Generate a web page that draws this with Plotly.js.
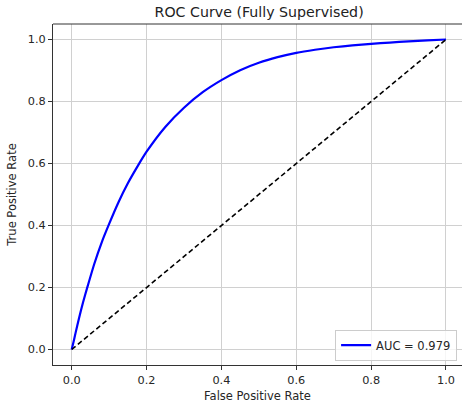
<!DOCTYPE html>
<html>
<head>
<meta charset="utf-8">
<script src="https://cdn.plot.ly/plotly-3.0.1.min.js"></script>
<style>
  html, body { margin: 0; padding: 0; background: #fff; }
  #chart { width: 462px; height: 406px; }
</style>
</head>
<body>
<div id="chart"></div>
<script>
// ROC curve points (false positive rate / true positive rate)
const fpr = [0.0, 0.005, 0.01, 0.02, 0.03, 0.043, 0.06, 0.08, 0.1, 0.125, 0.15, 0.175, 0.2, 0.25, 0.3,
             0.35, 0.4, 0.45, 0.5, 0.55, 0.6, 0.65, 0.7, 0.75, 0.8, 0.85, 0.9, 0.95, 1.0];
const tpr = [0.0, 0.025, 0.052, 0.103, 0.151, 0.206, 0.275, 0.345, 0.405, 0.475, 0.536, 0.589, 0.638, 0.718, 0.780,
             0.830, 0.869, 0.901, 0.925, 0.943, 0.957, 0.967, 0.975, 0.981, 0.986, 0.990, 0.994, 0.997, 1.0];

// chance line
const chanceX = [0, 1];
const chanceY = [0, 1];

const aucLabel = 'AUC = 0.979';
const xTicks = [0.0, 0.2, 0.4, 0.6, 0.8, 1.0];
const yTicks = [0.0, 0.2, 0.4, 0.6, 0.8, 1.0];
const tickText = ['0.0', '0.2', '0.4', '0.6', '0.8', '1.0'];

const FONT = 'DejaVu Sans, Verdana, sans-serif';

const traces = [
  {
    x: fpr, y: tpr, type: 'scatter', mode: 'lines',
    name: aucLabel,
    line: { color: '#0000ff', width: 2.2, shape: 'spline', smoothing: 0.6 }
  },
  {
    x: chanceX, y: chanceY, type: 'scatter', mode: 'lines',
    showlegend: false, hoverinfo: 'skip',
    line: { color: '#000000', width: 1.6, dash: '5px,3px' }
  }
];

const axisCommon = {
  showgrid: true, gridcolor: '#d0d0d0', gridwidth: 1,
  zeroline: false,
  showline: true, linecolor: '#333333', linewidth: 1,
  ticks: 'outside', ticklen: 4, tickwidth: 1, tickcolor: '#333333',
  tickfont: { family: FONT, size: 11.3, color: '#262626' }
};

const layout = {
  width: 462, height: 406,
  margin: { l: 53, r: 0, t: 24, b: 41 },
  paper_bgcolor: '#ffffff', plot_bgcolor: '#ffffff',
  font: { family: FONT, color: '#262626' },
  title: {
    text: 'ROC Curve (Fully Supervised)',
    font: { family: FONT, size: 14.2, color: '#222222' },
    x: 0.504, xanchor: 'center', xref: 'paper',
    y: 1 - 12.5 / 406, yanchor: 'middle', yref: 'container'
  },
  xaxis: Object.assign({}, axisCommon, {
    range: [-0.05, 1.0428],
    tickvals: xTicks, ticktext: tickText,
    title: { text: 'False Positive Rate', font: { family: FONT, size: 11.5, color: '#262626' }, standoff: 6 }
  }),
  yaxis: Object.assign({}, axisCommon, {
    range: [-0.05, 1.05],
    tickvals: yTicks, ticktext: tickText,
    title: { text: 'True Positive Rate', font: { family: FONT, size: 11.5, color: '#262626' }, standoff: 8 }
  }),
  showlegend: true,
  legend: {
    x: 0.988, y: 0.013, xanchor: 'right', yanchor: 'bottom',
    bgcolor: 'rgba(255,255,255,0.8)', bordercolor: '#cccccc', borderwidth: 1,
    font: { family: FONT, size: 11.5, color: '#262626' },
    itemwidth: 30
  },
  shapes: [
    // top spine
    { type: 'line', xref: 'paper', yref: 'paper', x0: 0, x1: 1, y0: 1, y1: 1,
      line: { color: '#333333', width: 1 } }
  ]
};

Plotly.newPlot('chart', traces, layout, { displayModeBar: false, staticPlot: true });
</script>
</body>
</html>
